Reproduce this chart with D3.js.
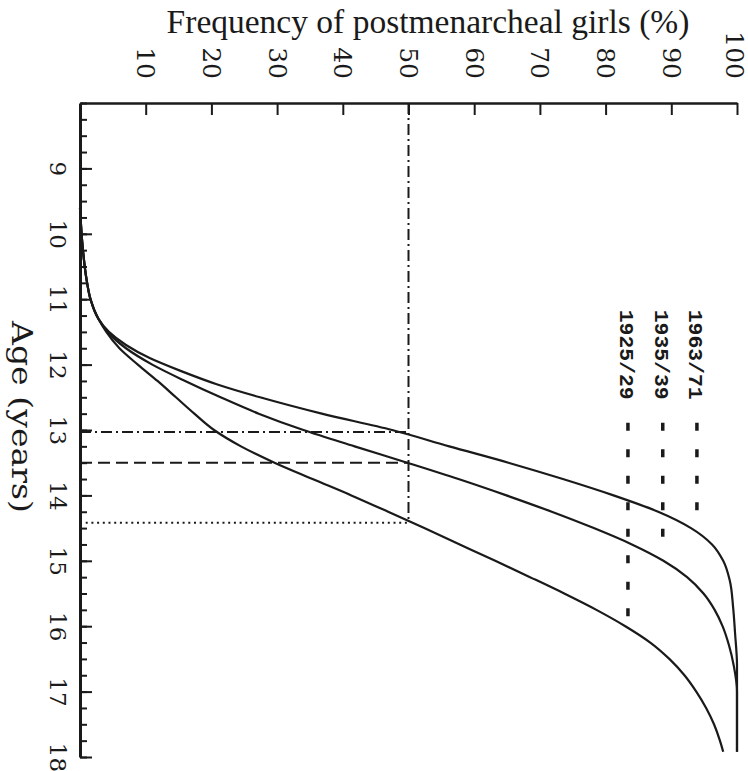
<!DOCTYPE html>
<html>
<head>
<meta charset="utf-8">
<script src="https://cdn.jsdelivr.net/npm/d3@7"></script>
<style>
  html, body { margin: 0; padding: 0; background: #fff; }
  svg { display: block; }
</style>
</head>
<body>
<svg id="chart" width="748" height="771"></svg>
<script>
// ---------------- data ----------------
const seriesNames = ["1963/71", "1935/39", "1925/29"];

const age1963 = [9.6, 10.2, 10.7, 11.0, 11.3, 11.5, 11.7, 11.9, 12.1, 12.3, 12.5, 12.75, 13.0, 13.25, 13.5, 13.75, 14.0, 14.25, 14.5, 14.75, 15.0, 15.3, 15.7, 16.1, 16.6, 17.92];
const pct1963 = [0, 0.4, 1.0, 1.6, 2.8, 4.4, 7.0, 10.6, 15.4, 20.8, 27.4, 36.8, 47.5, 56.2, 65.2, 73.5, 81.2, 88.0, 93.0, 96.2, 97.9, 98.9, 99.4, 99.7, 100, 100];

const age1935 = [9.6, 10.2, 10.7, 11.0, 11.3, 11.5, 11.75, 12.0, 12.25, 12.5, 12.75, 13.0, 13.25, 13.5, 13.75, 14.0, 14.25, 14.5, 14.75, 15.0, 15.25, 15.5, 15.75, 16.0, 16.3, 16.6, 17.0, 17.92];
const pct1935 = [0, 0.4, 1.0, 1.6, 2.8, 4.2, 7.0, 11.0, 16.0, 21.4, 27.2, 34.0, 41.8, 49.8, 57.6, 64.9, 71.8, 78.2, 84.0, 88.8, 92.4, 94.9, 96.6, 97.8, 98.8, 99.5, 100, 100];

const age1925 = [9.6, 10.2, 10.7, 11.0, 11.3, 11.5, 11.75, 12.0, 12.25, 12.5, 12.75, 13.0, 13.25, 13.5, 13.75, 14.0, 14.25, 14.5, 14.75, 15.0, 15.25, 15.5, 15.75, 16.0, 16.25, 16.5, 16.75, 17.0, 17.25, 17.5, 17.75, 17.92];
const pct1925 = [0, 0.4, 1.0, 1.6, 2.8, 4.0, 6.0, 8.8, 11.8, 14.6, 17.4, 20.4, 24.5, 29.6, 35.4, 41.3, 46.9, 52.4, 57.8, 63.2, 68.5, 73.7, 78.6, 83.0, 86.8, 89.7, 92.0, 93.8, 95.3, 96.5, 97.4, 97.9];

// median ages (age at 50 %)
const medianAges = [13.03, 13.5, 14.42];
const medianPct = 50;

// tick values
const freqTicks = [10, 20, 30, 40, 50, 60, 70, 80, 90, 100];
const ageMajorTicks = [9, 10, 11, 12, 13, 14, 15, 16, 17, 18];
const ageMinorTicks = d3.range(8, 18.001, 0.25);

// legend (label placed at a frequency, dashes down to an age)
const legendPct = [93.9, 88.7, 83.4];
const legendLabelAge = 11.16;
const legendStartAge = 12.89;
const legendEndAge = [14.24, 14.65, 15.87];

// ---------------- drawing ----------------
const svg = d3.select("#chart");
const ink = "#1a1a1a";
const serif = "'DejaVu Serif', 'Liberation Serif', serif";
const mono = "'Liberation Mono', 'DejaVu Sans Mono', monospace";

const x = d3.scaleLinear().domain([0, 100]).range([80, 737]);
const y = d3.scaleLinear().domain([8, 18]).range([103, 757]);

// title
svg.append("text")
  .attr("x", 428).attr("y", 33)
  .attr("text-anchor", "middle")
  .attr("font-family", "'Liberation Serif', 'Times New Roman', serif").attr("font-size", 33.5)
  .attr("fill", ink)
  .text("Frequency of postmenarcheal girls (%)");

// top (frequency) axis
const topAxis = svg.append("g")
  .attr("transform", `translate(0,${y(8)})`)
  .call(d3.axisTop(x).tickValues(freqTicks).tickSizeInner(-12).tickSizeOuter(0));
topAxis.select(".domain").attr("stroke", ink).attr("stroke-width", 2.5);
topAxis.selectAll(".tick line").attr("stroke", ink).attr("stroke-width", 2);
topAxis.selectAll(".tick text")
  .attr("x", null).attr("y", null).attr("dy", "0.36em")
  .attr("transform", d => `translate(${d === 100 ? -3 : 0},-24) rotate(90)`)
  .attr("text-anchor", "end")
  .attr("font-family", serif).attr("font-size", 25)
  .attr("fill", ink);

// left (age) axis: minor ticks
const leftMinor = svg.append("g")
  .attr("transform", `translate(${x(0)},0)`)
  .call(d3.axisLeft(y).tickValues(ageMinorTicks).tickSizeInner(-7).tickSizeOuter(0).tickFormat(""));
leftMinor.select(".domain").attr("stroke", ink).attr("stroke-width", 3);
leftMinor.selectAll(".tick line").attr("stroke", ink).attr("stroke-width", 2);

// left (age) axis: major ticks + labels
const leftMajor = svg.append("g")
  .attr("transform", `translate(${x(0)},0)`)
  .call(d3.axisLeft(y).tickValues(ageMajorTicks).tickSizeInner(-12).tickSizeOuter(0).tickFormat(d3.format("d")));
leftMajor.select(".domain").remove();
leftMajor.selectAll(".tick line").attr("stroke", ink).attr("stroke-width", 2);
leftMajor.selectAll(".tick text")
  .attr("x", null).attr("y", null).attr("dy", "0em")
  .attr("transform", "translate(-30,0) rotate(90)")
  .attr("text-anchor", "middle")
  .attr("font-family", serif).attr("font-size", 23)
  .attr("fill", ink);

// age axis title
svg.append("text")
  .attr("transform", "translate(12,417) rotate(90)")
  .attr("text-anchor", "middle")
  .attr("font-family", serif).attr("font-size", 28)
  .attr("textLength", 192).attr("lengthAdjust", "spacingAndGlyphs")
  .attr("fill", ink)
  .text("Age (years)");

// reference lines for medians
const medianStyles = ["11,4,2,4", "12,6", "2,3.7"];
svg.append("line")
  .attr("x1", x(medianPct)).attr("x2", x(medianPct))
  .attr("y1", y(8)).attr("y2", y(d3.max(medianAges)))
  .attr("stroke", ink).attr("stroke-width", 2)
  .attr("stroke-dasharray", "11,4,2,4");
svg.selectAll("line.median")
  .data(medianAges)
  .join("line")
  .attr("class", "median")
  .attr("x1", x(0)).attr("x2", x(medianPct))
  .attr("y1", d => y(d)).attr("y2", d => y(d))
  .attr("stroke", ink).attr("stroke-width", 2)
  .attr("stroke-dasharray", (d, i) => medianStyles[i]);

// curves
const seriesData = [
  d3.zip(age1963, pct1963),
  d3.zip(age1935, pct1935),
  d3.zip(age1925, pct1925)
];
const line = d3.line()
  .x(d => x(d[1]))
  .y(d => y(d[0]))
  .curve(d3.curveMonotoneY);
svg.selectAll("path.curve")
  .data(seriesData)
  .join("path")
  .attr("class", "curve")
  .attr("d", line)
  .attr("fill", "none")
  .attr("stroke", ink)
  .attr("stroke-width", 2.2);

// legend
const lg = svg.selectAll("g.legend")
  .data(seriesNames)
  .join("g")
  .attr("class", "legend");
lg.append("text")
  .attr("transform", (d, i) => `translate(${x(legendPct[i])},${y(legendLabelAge)}) rotate(90)`)
  .attr("dy", "0.36em")
  .attr("text-anchor", "start")
  .attr("font-family", mono).attr("font-size", 21).attr("font-weight", "bold")
  .attr("textLength", 90).attr("lengthAdjust", "spacingAndGlyphs")
  .attr("fill", ink)
  .text(d => d);
lg.append("line")
  .attr("x1", (d, i) => x(legendPct[i])).attr("x2", (d, i) => x(legendPct[i]))
  .attr("y1", y(legendStartAge)).attr("y2", (d, i) => y(legendEndAge[i]))
  .attr("stroke", ink).attr("stroke-width", 3.5)
  .attr("stroke-dasharray", "8,18.5");
</script>
</body>
</html>
